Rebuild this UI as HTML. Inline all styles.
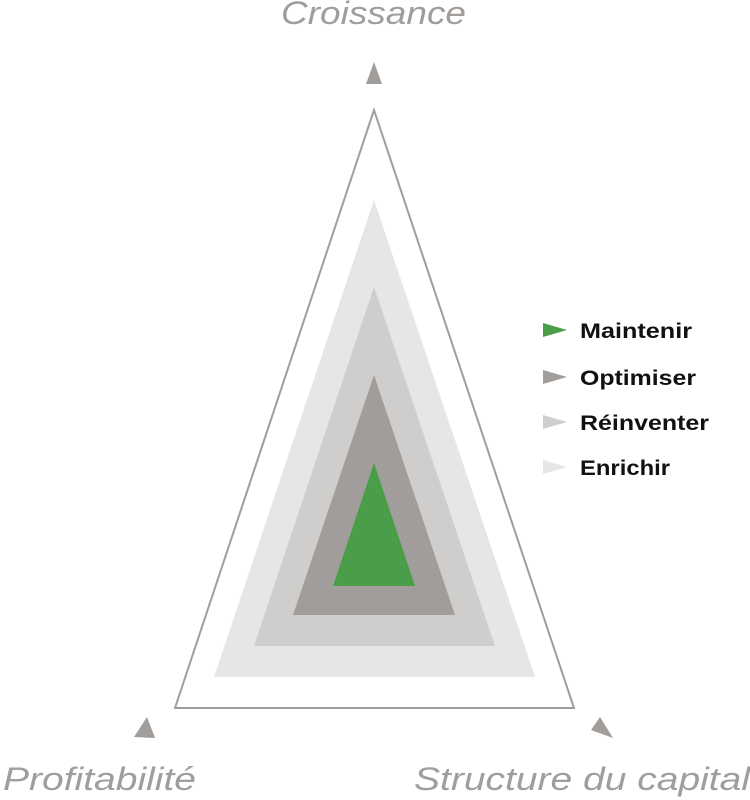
<!DOCTYPE html>
<html><head><meta charset="utf-8"><style>
html,body{margin:0;padding:0;background:#fff;}
svg{display:block;}
</style></head><body>
<svg width="750" height="800" viewBox="0 0 750 800" xmlns="http://www.w3.org/2000/svg">
<g font-family="Liberation Sans, sans-serif" font-style="italic" fill="#a09d9a" font-size="32">
<text x="281" y="24" textLength="185" lengthAdjust="spacingAndGlyphs">Croissance</text>
<text x="3" y="790" textLength="193" lengthAdjust="spacingAndGlyphs">Profitabilité</text>
<text x="414" y="790" textLength="336" lengthAdjust="spacingAndGlyphs">Structure du capital</text>
</g>
<polygon points="374,62 366,84 382,84" fill="#a09d9a"/>
<polygon points="147,717 155,738 134,737" fill="#a09d9a"/>
<polygon points="600,717 613,738 591,730" fill="#a09d9a"/>
<polygon points="374,110 175,708 574,708" fill="#fff" stroke="#a09d9a" stroke-width="2"/>
<polygon points="374,200 214,677 535,677" fill="#e6e6e5"/>
<polygon points="374,287 254,646 495,646" fill="#cfcecd"/>
<polygon points="374,375 293,615 455,615" fill="#a09d9a"/>
<polygon points="374,463 333,586 415,586" fill="#4a9e4a"/>
<polygon points="543,323 543,337 567,330" fill="#4a9e4a"/>
<polygon points="543,370 543,384 567,377" fill="#a09d9a"/>
<polygon points="543,415 543,429 567,422" fill="#cfcecd"/>
<polygon points="543,460 543,474 567,467" fill="#e6e6e5"/>
<g font-family="Liberation Sans, sans-serif" font-weight="bold" fill="#111" font-size="21">
<text x="580" y="338" textLength="112" lengthAdjust="spacingAndGlyphs">Maintenir</text>
<text x="580" y="385" textLength="116" lengthAdjust="spacingAndGlyphs">Optimiser</text>
<text x="580" y="430" textLength="129" lengthAdjust="spacingAndGlyphs">Réinventer</text>
<text x="580" y="475" textLength="90" lengthAdjust="spacingAndGlyphs">Enrichir</text>
</g>
</svg>
</body></html>
